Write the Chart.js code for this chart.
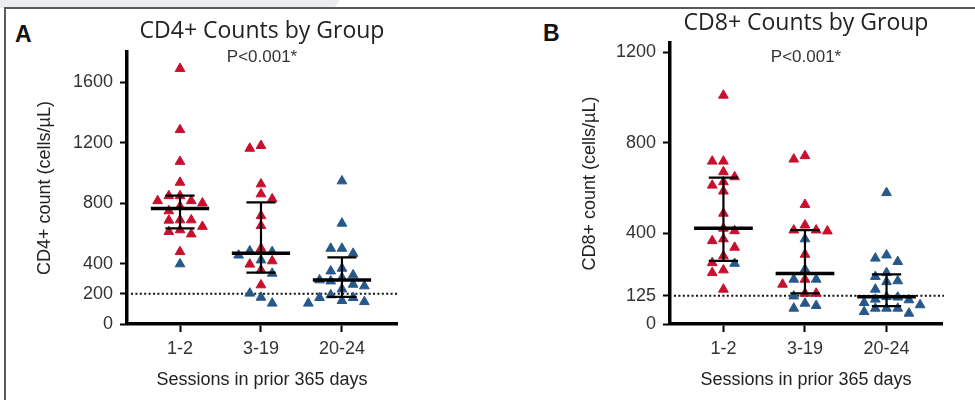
<!DOCTYPE html>
<html><head><meta charset="utf-8">
<script src="https://cdn.jsdelivr.net/npm/chart.js@4.4.1/dist/chart.umd.min.js"></script>
<style>
html,body{margin:0;padding:0;background:#fff;}
#wrap{position:relative;width:975px;height:400px;overflow:hidden;background:#fff;}
#shade{position:absolute;left:0;top:0;width:340px;height:8px;background:#ececf0;clip-path:polygon(0 0,340px 0,334px 8px,0 8px);}
#frameTop{position:absolute;left:4px;top:7px;width:971px;height:2px;background:#5a5a5a;}
#frameLeft{position:absolute;left:4px;top:7px;width:2px;height:393px;background:#5a5a5a;}
.letter{position:absolute;font:bold 23px 'Liberation Sans',Arial,sans-serif;line-height:23px;color:#111;}
.box{position:absolute;top:0;height:400px;}
</style></head><body>
<div id="wrap">
 <div id="shade"></div><div id="frameTop"></div><div id="frameLeft"></div>
 <div class="letter" style="left:15px;top:23px">A</div>
 <div class="letter" style="left:543px;top:22px">B</div>
 <div class="box" style="left:0;width:487px"><canvas id="cA"></canvas></div>
 <div class="box" style="left:490px;width:485px"><canvas id="cB"></canvas></div>
</div>
<script>
// ---- data ----
const groups = ['1-2', '3-19', '20-24'];
const cd4Ticks = [0, 200, 400, 800, 1200, 1600];
const cd8Ticks = [0, 125, 400, 800, 1200];

const cd4Red = [
  [1690, 1285, 1075, 937, 848, 848, 815, 815, 800, 778, 748, 688, 688, 686, 645, 622, 611, 595, 478],
  [1180, 1162, 926, 860, 827, 716, 650, 500, 417, 395, 357, 258],
  []
];
const cd4Blue = [
  [397],
  [483, 478, 455, 423, 335, 203, 176, 137],
  [946, 666, 500, 500, 467, 368, 350, 324, 306, 291, 284, 262, 251, 231, 192, 174, 174, 154, 147, 137]
];
const cd4Median = [765, 468, 291];
const cd4Q1 = [633, 340, 180];
const cd4Q3 = [849, 805, 441];
const cd4Cutoff = 200;

const cd8Red = [
  [1009, 718, 718, 671, 649, 627, 612, 586, 488, 422, 411, 375, 367, 338, 300, 270, 238, 226, 153],
  [742, 727, 527, 436, 414, 414, 410, 307, 197, 175, 135, 135],
  []
];
const cd8Blue = [
  [267],
  [375, 241, 197, 197, 123, 91, 81, 69],
  [579, 304, 290, 275, 226, 209, 190, 186, 153, 120, 118, 109, 106, 94, 84, 69, 69, 69, 54, 47]
];
const cd8Median = [422, 223, 120];
const cd8Q1 = [279, 135, 79];
const cd8Q3 = [646, 414, 219];
const cd8Cutoff = 125;

const pText = 'P<0.001*';
const RED = '#c8102e';
const BLUE = '#27588a';

Chart.defaults.font.family = "'Liberation Sans', Arial, sans-serif";
Chart.defaults.color = '#333';

function toPoints(arr) {
  const out = [];
  arr.forEach((vals, gi) => vals.forEach(v => out.push({ x: gi + 1, y: v, g: gi + 1 })));
  return out;
}

const summaryPlugin = {
  id: 'summary',
  beforeDatasetsDraw(chart, args, o) {
    const { ctx, chartArea: ca, scales: { y } } = chart;
    const py = y.getPixelForValue(o.cutoff);
    ctx.save();
    ctx.strokeStyle = '#111';
    ctx.lineWidth = 2;
    ctx.setLineDash([2, 2.4]);
    ctx.beginPath();
    ctx.moveTo(ca.left + 4, py);
    ctx.lineTo(ca.right + 2, py);
    ctx.stroke();
    ctx.restore();
  },
  afterDatasetsDraw(chart, args, o) {
    const { ctx, chartArea: ca, scales: { x, y } } = chart;
    ctx.save();
    ctx.strokeStyle = '#000';
    o.median.forEach((m, i) => {
      const g = i + 1;
      const yM = y.getPixelForValue(m), y1 = y.getPixelForValue(o.q1[i]), y3 = y.getPixelForValue(o.q3[i]);
      const xc = x.getPixelForValue(g);
      const xmL = x.getPixelForValue(g - 0.36), xmR = x.getPixelForValue(g + 0.36);
      const xcL = x.getPixelForValue(g - 0.18), xcR = x.getPixelForValue(g + 0.18);
      ctx.lineWidth = 2.2;
      ctx.beginPath();
      ctx.moveTo(xc, y3); ctx.lineTo(xc, y1);
      ctx.moveTo(xcL, y3); ctx.lineTo(xcR, y3);
      ctx.moveTo(xcL, y1); ctx.lineTo(xcR, y1);
      ctx.stroke();
      ctx.lineWidth = 3.5;
      ctx.beginPath();
      ctx.moveTo(xmL, yM); ctx.lineTo(xmR, yM);
      ctx.stroke();
    });
    ctx.fillStyle = '#333';
    ctx.font = "17px 'Liberation Sans', Arial, sans-serif";
    ctx.textAlign = 'center';
    ctx.textBaseline = 'middle';
    ctx.fillText(o.text, (ca.left + ca.right) / 2, o.textY);
    ctx.restore();
  }
};

function makeChart(id, cfg) {
  const chart = new Chart(document.getElementById(id), {
    type: 'scatter',
    data: {
      datasets: [
        { label: 'red', data: toPoints(cfg.red), backgroundColor: RED, borderColor: RED },
        { label: 'blue', data: toPoints(cfg.blue), backgroundColor: BLUE, borderColor: BLUE }
      ]
    },
    options: {
      responsive: true,
      maintainAspectRatio: false,
      animation: false,
      events: [],
      layout: { padding: { left: 0, right: cfg.padRight, top: 0, bottom: 0 } },
      elements: { point: { pointStyle: 'triangle', radius: 5.6, borderWidth: 1 } },
      plugins: {
        legend: { display: false },
        tooltip: { enabled: false },
        title: {
          display: true, text: cfg.title, fullSize: false, color: '#222',
          font: { family: "'Open Sans', sans-serif", size: 23, weight: 'normal', lineHeight: 1.2 },
          padding: { top: cfg.titleTop, bottom: cfg.titleBottom }
        },
        summary: { median: cfg.median, q1: cfg.q1, q3: cfg.q3, cutoff: cfg.cutoff, text: pText, textY: 57 }
      },
      scales: {
        x: {
          type: 'linear', min: 0.345, max: 3.68,
          afterBuildTicks: s => { s.ticks = groups.map((_, i) => ({ value: i + 1 })); },
          afterFit: s => { s.height = 76; },
          ticks: { callback: v => groups[v - 1], font: { size: 18 }, color: '#333', padding: 6, maxRotation: 0 },
          grid: { drawOnChartArea: false, drawTicks: true, tickLength: 8, tickWidth: 2, tickColor: '#000' },
          border: { display: true, color: '#000', width: 3.5 },
          title: { display: true, text: 'Sessions in prior 365 days', font: { size: 18 }, color: '#222', padding: { top: 0, bottom: 9 } }
        },
        y: {
          type: 'linear', min: 0, max: cfg.yMax,
          afterBuildTicks: s => { s.ticks = cfg.ticks.map(v => ({ value: v })); },
          afterFit: s => { s.width = cfg.yWidth; },
          ticks: { callback: v => String(v), font: { size: 18 }, color: '#333', padding: 7 },
          grid: { drawOnChartArea: false, drawTicks: true, tickLength: 7, tickWidth: 2, tickColor: '#000' },
          border: { display: true, color: '#000', width: 3.5 },
          title: { display: true, text: cfg.yTitle, font: { size: 18 }, color: '#222', padding: { top: cfg.yTitlePad, bottom: 0 } }
        }
      }
    },
    plugins: [summaryPlugin]
  });
  swarm(chart);
  return chart;
}

// beeswarm-style horizontal spreading computed through the chart's own scales
function swarm(chart) {
  const xs = chart.scales.x, ys = chart.scales.y;
  const pxPerX = xs.getPixelForValue(2) - xs.getPixelForValue(1);
  const STEP = 5.6, W = 10.8, H = 9;
  for (let g = 1; g <= 3; g++) {
    const pts = [];
    chart.data.datasets.forEach(ds => ds.data.forEach(p => { if (p.g === g) pts.push(p); }));
    pts.sort((a, b) => b.y - a.y);
    const placed = [];
    pts.forEach(p => {
      const py = ys.getPixelForValue(p.y);
      const left = placed.filter(q => q.dx < 0).length, right = placed.filter(q => q.dx > 0).length;
      for (let k = 0; k < 60; k++) {
        const c = k === 0 ? [0] : (left > right ? [k, -k] : [-k, k]);
        let found = null;
        for (const s of c) {
          const dx = s * STEP;
          if (placed.every(q => Math.abs(q.dx - dx) >= W || Math.abs(q.py - py) >= H)) { found = dx; break; }
        }
        if (found !== null) { placed.push({ dx: found, py }); p.x = g + found / pxPerX; break; }
      }
    });
  }
  chart.update('none');
}

makeChart('cA', {
  red: cd4Red, blue: cd4Blue, median: cd4Median, q1: cd4Q1, q3: cd4Q3, cutoff: cd4Cutoff,
  title: 'CD4+ Counts by Group', titleTop: 17.4, titleBottom: 7,
  yMax: 1800, ticks: cd4Ticks, yWidth: 127, padRight: 90,
  yTitle: 'CD4+ count (cells/\u00B5L)', yTitlePad: 34
});
makeChart('cB', {
  red: cd8Red, blue: cd8Blue, median: cd8Median, q1: cd8Q1, q3: cd8Q3, cutoff: cd8Cutoff,
  title: 'CD8+ Counts by Group', titleTop: 9.2, titleBottom: 6.2,
  yMax: 1240, ticks: cd8Ticks, yWidth: 180, padRight: 33,
  yTitle: 'CD8+ count (cells/\u00B5L)', yTitlePad: 89
});
</script>
</body></html>
